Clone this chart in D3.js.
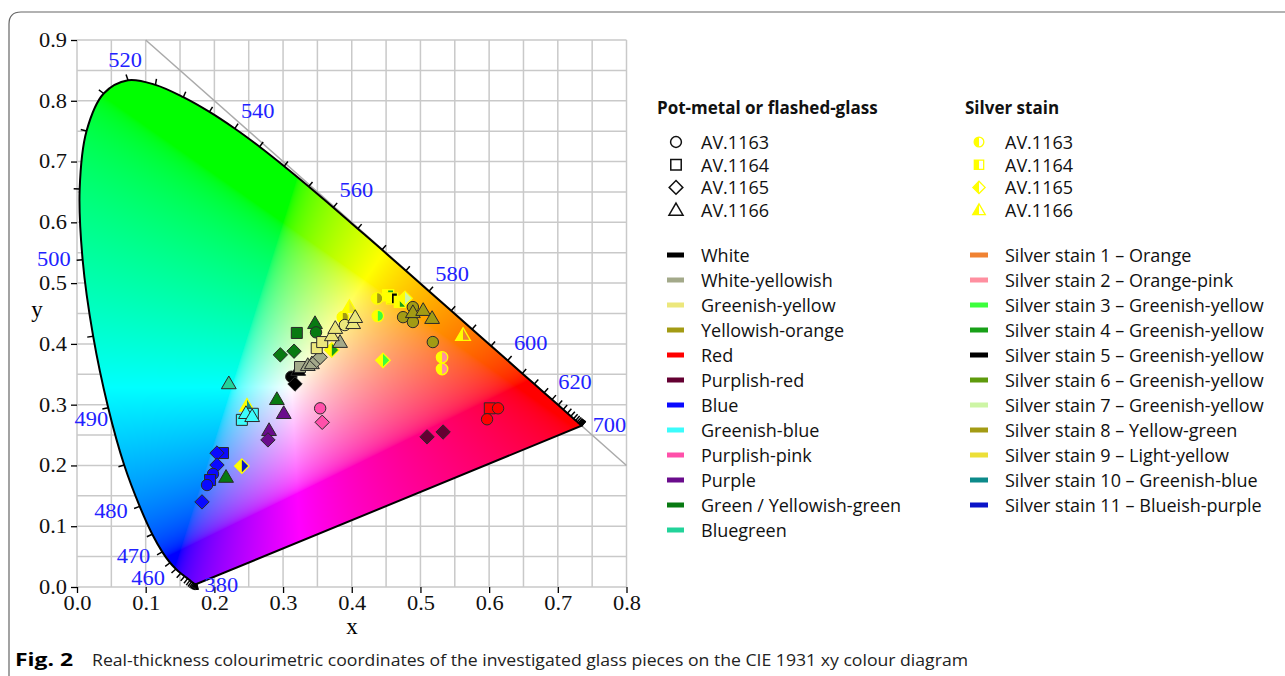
<!DOCTYPE html>
<html>
<head>
<meta charset="utf-8">
<script src="https://cdn.jsdelivr.net/npm/d3@7"></script>
<style>
body { margin: 0; background: #fff; }
</style>
</head>
<body>
<script>
var width = 1285;
var height = 676;

// CIE 1931 2 deg spectral locus [nm, x, y]
var locus = [
[380,0.1741,0.0050],[385,0.1740,0.0050],[390,0.1738,0.0049],[395,0.1736,0.0049],
[400,0.1733,0.0048],[405,0.1730,0.0048],[410,0.1726,0.0048],[415,0.1721,0.0048],
[420,0.1714,0.0051],[425,0.1703,0.0058],[430,0.1689,0.0069],[435,0.1669,0.0086],
[440,0.1644,0.0109],[445,0.1611,0.0138],[450,0.1566,0.0177],[455,0.1510,0.0227],
[460,0.1440,0.0297],[465,0.1355,0.0399],[470,0.1241,0.0578],[475,0.1096,0.0868],
[480,0.0913,0.1327],[485,0.0687,0.2007],[490,0.0454,0.2950],[495,0.0235,0.4127],
[500,0.0082,0.5384],[505,0.0039,0.6548],[510,0.0139,0.7502],[515,0.0389,0.8120],
[520,0.0743,0.8338],[525,0.1142,0.8262],[530,0.1547,0.8059],[535,0.1929,0.7816],
[540,0.2296,0.7543],[545,0.2658,0.7243],[550,0.3016,0.6923],[555,0.3373,0.6589],
[560,0.3731,0.6245],[565,0.4087,0.5896],[570,0.4441,0.5547],[575,0.4788,0.5202],
[580,0.5125,0.4866],[585,0.5448,0.4544],[590,0.5752,0.4242],[595,0.6029,0.3965],
[600,0.6270,0.3725],[605,0.6482,0.3514],[610,0.6658,0.3340],[615,0.6801,0.3197],
[620,0.6915,0.3083],[625,0.7006,0.2993],[630,0.7079,0.2920],[635,0.7140,0.2859],
[640,0.7190,0.2809],[645,0.7230,0.2770],[650,0.7260,0.2740],[655,0.7283,0.2717],
[660,0.7300,0.2700],[665,0.7311,0.2689],[670,0.7320,0.2680],[675,0.7327,0.2673],
[680,0.7334,0.2666],[685,0.7340,0.2660],[690,0.7344,0.2656],[695,0.7346,0.2654],
[700,0.7347,0.2653]
];
var waveLabels = [380, 460, 470, 480, 490, 500, 520, 540, 560, 580, 600, 620, 700];

var xTicks = [0, 0.1, 0.2, 0.3, 0.4, 0.5, 0.6, 0.7, 0.8];
var yTicks = [0, 0.1, 0.2, 0.3, 0.4, 0.5, 0.6, 0.7, 0.8, 0.9];

var sampleNames = ["AV.1163", "AV.1164", "AV.1165", "AV.1166"];
var sampleShapes = ["circle", "square", "diamond", "triangle"];

var colourNames = ["White", "White-yellowish", "Greenish-yellow", "Yellowish-orange", "Red",
    "Purplish-red", "Blue", "Greenish-blue", "Purplish-pink", "Purple",
    "Green / Yellowish-green", "Bluegreen"];
var colourValues = ["#000000", "#a3a98a", "#ece77c", "#a39b14", "#ff0000",
    "#640032", "#0a0aff", "#3cfcfc", "#ff50aa", "#6a0c8c",
    "#087a12", "#22d39a"];

var stainNames = ["Silver stain 1 \u2013 Orange", "Silver stain 2 \u2013 Orange-pink",
    "Silver stain 3 \u2013 Greenish-yellow", "Silver stain 4 \u2013 Greenish-yellow",
    "Silver stain 5 \u2013 Greenish-yellow", "Silver stain 6 \u2013 Greenish-yellow",
    "Silver stain 7 \u2013 Greenish-yellow", "Silver stain 8 \u2013 Yellow-green",
    "Silver stain 9 \u2013 Light-yellow", "Silver stain 10 \u2013 Greenish-blue",
    "Silver stain 11 \u2013 Blueish-purple"];
var stainColours = ["#f08232", "#ff8fa0", "#3cff3c", "#18a018", "#000000", "#5e9a0c",
    "#cdf5a5", "#a39b14", "#ecdf38", "#0c8a8a", "#0a14c8"];
var stainYellow = "#ffff00";

// pot-metal / flashed glass: [x, y, sample, colour]
var potGlass = [
[0.2126,0.2204,1,6],[0.2038,0.2204,2,6],[0.2038,0.2007,2,6],[0.1980,0.1860,0,6],
[0.1937,0.1760,1,6],[0.1893,0.1678,0,6],[0.1820,0.1400,2,6],
[0.2170,0.1810,3,10],
[0.2400,0.2750,1,7],[0.2560,0.2850,1,7],[0.2460,0.2860,3,7],[0.2550,0.2810,3,7],
[0.2210,0.3350,3,11],
[0.2910,0.3090,3,10],[0.2960,0.3820,2,10],[0.3160,0.3880,2,10],[0.3200,0.4180,1,10],
[0.3465,0.4340,3,10],[0.3480,0.4190,0,10],
[0.3010,0.2860,3,9],[0.2796,0.2580,3,9],[0.2780,0.2420,2,9],
[0.3540,0.2940,0,8],[0.3570,0.2710,2,8],
[0.3120,0.3460,0,0],[0.3174,0.3340,2,0],[0.3220,0.3570,3,0],
[0.3247,0.3620,1,1],[0.3360,0.3650,3,1],[0.3420,0.3680,3,1],[0.3490,0.3730,2,1],
[0.3540,0.3780,2,1],[0.3830,0.4030,3,1],
[0.3490,0.3930,1,2],[0.3570,0.4030,1,2],[0.3710,0.4140,3,2],[0.3760,0.4260,3,2],
[0.3900,0.4310,0,2],[0.4020,0.4340,3,2],[0.4050,0.4440,3,2],
[0.4747,0.4440,0,3],[0.4890,0.4360,0,3],[0.4890,0.4605,0,3],[0.4890,0.4520,3,3],
[0.5040,0.4556,3,3],[0.5170,0.4424,3,3],[0.5180,0.4030,0,3],
[0.6010,0.2940,1,4],[0.6130,0.2940,0,4],[0.5970,0.2760,0,4],
[0.5096,0.2470,2,5],[0.5330,0.2550,2,5]
];

// silver stain: [x, y, sample, stain]
var stainGlass = [
[0.2400,0.1990,2,10],[0.2475,0.2980,3,9],
[0.3870,0.4440,0,7],[0.3966,0.4605,3,8],[0.3710,0.3900,2,3],
[0.4455,0.3730,2,2],[0.4380,0.4460,0,2],[0.4370,0.4750,0,7],
[0.4530,0.4800,1,3],[0.4586,0.4750,1,4],[0.4700,0.4690,1,3],[0.4776,0.4750,2,6],
[0.5315,0.3780,0,1],[0.5315,0.3586,0,1],[0.5620,0.4145,3,0]
];

var svg = d3.select("body").append("svg")
    .attr("width", width)
    .attr("height", height);

var x = d3.scaleLinear().domain([0, 0.8]).range([77, 626.5]);
var y = d3.scaleLinear().domain([0, 0.9]).range([587, 40]);

var serif = "'Liberation Serif', 'Times New Roman', serif";
var sans = "'Open Sans', 'Noto Sans', sans-serif";

// outer frame
svg.append("path")
    .attr("d", "M9,676 L9,24 Q9,12 21,12 L1285,12")
    .attr("fill", "none")
    .attr("stroke", "#666")
    .attr("stroke-width", 1.2);

// grid
var grid = svg.append("g").attr("stroke", "#c9c9c9").attr("stroke-width", 1.5);
d3.range(0, 0.8001, 0.05).forEach(function(v) {
    grid.append("line").attr("x1", x(v)).attr("x2", x(v)).attr("y1", y(0)).attr("y2", y(0.9));
});
d3.range(0, 0.9001, 0.05).forEach(function(v) {
    grid.append("line").attr("x1", x(0)).attr("x2", x(0.8)).attr("y1", y(v)).attr("y2", y(v));
});
svg.append("line")
    .attr("x1", x(0.1)).attr("y1", y(0.9)).attr("x2", x(0.8)).attr("y2", y(0.2))
    .attr("stroke", "#aaa").attr("stroke-width", 1.5);

// axes
var axL = svg.append("g").attr("transform", "translate(" + x(0) + ",0)")
    .call(d3.axisLeft(y).tickValues(yTicks).tickFormat(d3.format(".1f")).tickSize(6));
var axB = svg.append("g").attr("transform", "translate(0," + y(0) + ")")
    .call(d3.axisBottom(x).tickValues(xTicks).tickFormat(d3.format(".1f")).tickSize(6));
[axL, axB].forEach(function(a) {
    a.select(".domain").remove();
    a.selectAll("line").attr("stroke", "#000").attr("stroke-width", 1.3);
    a.selectAll("text").attr("font-family", serif).attr("font-size", 20).attr("fill", "#111");
});
axL.selectAll("text").attr("transform", "scale(1.12,1)");
axB.selectAll("text").attr("transform", "scale(1.12,1)").attr("y", 9);

svg.append("text").attr("x", 352).attr("y", 634).attr("text-anchor", "middle")
    .attr("font-family", serif).attr("font-size", 23).text("x");
svg.append("text").attr("x", 37).attr("y", 317).attr("text-anchor", "middle")
    .attr("font-family", serif).attr("font-size", 23).text("y");

// gamut fill
var pts = locus.map(function(d) { return [x(d[1]), y(d[2])]; });
var locusPath = d3.line().curve(d3.curveCatmullRom)(pts) + "Z";

svg.append("defs").append("clipPath").attr("id", "gamut")
    .append("path").attr("d", locusPath);

var x0 = Math.floor(x(0)), x1 = Math.ceil(x(0.8)), y0 = Math.floor(y(0.9)), y1 = Math.ceil(y(0));
var cw = x1 - x0, ch = y1 - y0;
var canvas = document.createElement("canvas");
canvas.width = cw; canvas.height = ch;
var ctx = canvas.getContext("2d");
var img = ctx.createImageData(cw, ch);
function gam(c) { return c <= 0.0031308 ? 12.92 * c : 1.055 * Math.pow(c, 1 / 2.4) - 0.055; }
for (var j = 0; j < ch; j++) {
    for (var i = 0; i < cw; i++) {
        var cx = x.invert(x0 + i + 0.5), cy = y.invert(y0 + j + 0.5);
        var k = (j * cw + i) * 4;
        if (cy <= 0.001) { img.data[k + 3] = 0; continue; }
        var X = cx / cy, Y = 1, Z = (1 - cx - cy) / cy;
        var r = 3.2406 * X - 1.5372 * Y - 0.4986 * Z;
        var g = -0.9689 * X + 1.8758 * Y + 0.0415 * Z;
        var b = 0.0557 * X - 0.2040 * Y + 1.0570 * Z;
        r = Math.max(r, 0); g = Math.max(g, 0); b = Math.max(b, 0);
        var m = Math.max(r, g, b) || 1;
        img.data[k] = Math.round(255 * gam(r / m));
        img.data[k + 1] = Math.round(255 * gam(g / m));
        img.data[k + 2] = Math.round(255 * gam(b / m));
        img.data[k + 3] = 255;
    }
}
ctx.putImageData(img, 0, 0);
svg.append("image")
    .attr("x", x0).attr("y", y0).attr("width", cw).attr("height", ch)
    .attr("href", canvas.toDataURL())
    .attr("clip-path", "url(#gamut)");

// wavelength ticks and labels
var wp = [x(0.3333), y(0.3333)];
function normalAt(i) {
    var a = pts[Math.max(i - 2, 0)], b = pts[Math.min(i + 2, pts.length - 1)];
    var tx = b[0] - a[0], ty = b[1] - a[1];
    var l = Math.sqrt(tx * tx + ty * ty) || 1;
    var nx = -ty / l, ny = tx / l;
    if (nx * (pts[i][0] - wp[0]) + ny * (pts[i][1] - wp[1]) < 0) { nx = -nx; ny = -ny; }
    return [nx, ny];
}
var ticks = svg.append("g").attr("stroke", "#000").attr("stroke-width", 1.5);
locus.forEach(function(d, i) {
    var n = normalAt(i), p = pts[i];
    ticks.append("line")
        .attr("x1", p[0]).attr("y1", p[1])
        .attr("x2", p[0] + n[0] * 6).attr("y2", p[1] + n[1] * 6);
});

svg.append("path").attr("d", locusPath)
    .attr("fill", "none").attr("stroke", "#000").attr("stroke-width", 2);

waveLabels.forEach(function(w) {
    var i = locus.findIndex(function(d) { return d[0] === w; });
    var p = pts[i], lx, ly, anchor;
    if (w === 380) { lx = p[0] + 8; ly = p[1] + 1; anchor = "start"; }
    else if (w === 700) { lx = p[0] + 11; ly = p[1]; anchor = "start"; }
    else if (w === 460) { lx = p[0] - 11; ly = p[1] + 9; anchor = "end"; }
    else if (w === 490) { lx = p[0]; ly = p[1] + 12; anchor = "end"; }
    else if (w <= 500) { lx = p[0] - 12; ly = p[1] + (w === 500 ? 0 : 5); anchor = "end"; }
    else if (w === 520) { lx = p[0] - 3; ly = p[1] - 20; anchor = "middle"; }
    else { lx = p[0] + 23; ly = p[1] - 17; anchor = "middle"; }
    svg.append("text")
        .attr("transform", "translate(" + lx + "," + ly + ") scale(1.12,1)")
        .attr("text-anchor", anchor)
        .attr("dominant-baseline", "central")
        .attr("font-family", serif).attr("font-size", 20)
        .attr("fill", "#2222ff")
        .text(w);
});

// markers
function shapePath(shape, s) {
    var r;
    if (shape === "circle") { r = 5.7 * s; return "M" + r + ",0A" + r + "," + r + " 0 1 1 " + (-r) + ",0A" + r + "," + r + " 0 1 1 " + r + ",0Z"; }
    if (shape === "square") { r = 5.5 * s; return "M" + (-r) + "," + (-r) + "H" + r + "V" + r + "H" + (-r) + "Z"; }
    if (shape === "diamond") { r = 7.2 * s; return "M0," + (-r) + "L" + r + ",0L0," + r + "L" + (-r) + ",0Z"; }
    r = 7.4 * s; return "M0," + (-r) + "L" + r + "," + (r * 0.72) + "L" + (-r) + "," + (r * 0.72) + "Z";
}

svg.select("defs").append("clipPath").attr("id", "lefthalf")
    .append("rect").attr("x", -12).attr("y", -12).attr("width", 12).attr("height", 24);

function stainMarker(g, shape, right, s) {
    g.append("path").attr("d", shapePath(shape, s)).attr("fill", right);
    g.append("path").attr("d", shapePath(shape, s)).attr("fill", stainYellow).attr("clip-path", "url(#lefthalf)");
    g.append("path").attr("d", shapePath(shape, s)).attr("fill", "none")
        .attr("stroke", stainYellow).attr("stroke-width", 1.3);
}

var stainG = svg.append("g");
stainGlass.forEach(function(d) {
    var g = stainG.append("g").attr("transform", "translate(" + x(d[0]) + "," + y(d[1]) + ")");
    stainMarker(g, sampleShapes[d[2]], stainColours[d[3]], 1);
});

svg.append("g").selectAll("path")
    .data(potGlass)
    .enter()
    .append("path")
    .attr("transform", function(d) { return "translate(" + x(d[0]) + "," + y(d[1]) + ")"; })
    .attr("d", function(d) { return shapePath(sampleShapes[d[2]], 1); })
    .attr("fill", function(d) { return colourValues[d[3]]; })
    .attr("stroke", "#2a2a2a")
    .attr("stroke-width", 1);

// legends
var leg = svg.append("g").attr("font-family", sans).attr("font-size", 18).attr("fill", "#111");

leg.append("text").attr("x", 657).attr("y", 107).attr("dominant-baseline", "central")
    .attr("font-size", 17).attr("font-weight", "bold").text("Pot-metal or flashed-glass");
leg.append("text").attr("x", 965).attr("y", 107).attr("dominant-baseline", "central")
    .attr("font-size", 17).attr("font-weight", "bold").text("Silver stain");

sampleNames.forEach(function(name, i) {
    var cy = 142 + i * 22.7;
    leg.append("path").attr("transform", "translate(676," + cy + ")")
        .attr("d", shapePath(sampleShapes[i], 0.95))
        .attr("fill", "none").attr("stroke", "#111").attr("stroke-width", 1.5);
    leg.append("text").attr("x", 701).attr("y", cy).attr("dominant-baseline", "central").text(name);

    var g = leg.append("g").attr("transform", "translate(979," + cy + ")");
    stainMarker(g, sampleShapes[i], "#ffffff", 0.85);
    leg.append("text").attr("x", 1005).attr("y", cy).attr("dominant-baseline", "central").text(name);
});

colourNames.forEach(function(name, i) {
    var cy = 255 + i * 25;
    leg.append("rect").attr("x", 667).attr("y", cy - 2.5).attr("width", 17).attr("height", 5)
        .attr("fill", colourValues[i]);
    leg.append("text").attr("x", 701).attr("y", cy).attr("dominant-baseline", "central").text(name);
});

stainNames.forEach(function(name, i) {
    var cy = 255 + i * 25;
    leg.append("rect").attr("x", 970).attr("y", cy - 2.5).attr("width", 18).attr("height", 5)
        .attr("fill", stainColours[i]);
    leg.append("text").attr("x", 1005).attr("y", cy).attr("dominant-baseline", "central").text(name);
});

// caption
svg.append("text").attr("x", 15).attr("y", 666)
    .attr("font-family", sans).attr("font-size", 17).attr("font-weight", "bold")
    .attr("textLength", 58).attr("lengthAdjust", "spacingAndGlyphs")
    .text("Fig. 2");
svg.append("text").attr("x", 92).attr("y", 666)
    .attr("font-family", sans).attr("font-size", 17).attr("fill", "#222")
    .attr("textLength", 876).attr("lengthAdjust", "spacingAndGlyphs")
    .text("Real-thickness colourimetric coordinates of the investigated glass pieces on the CIE 1931 xy colour diagram");
</script>
</body>
</html>
